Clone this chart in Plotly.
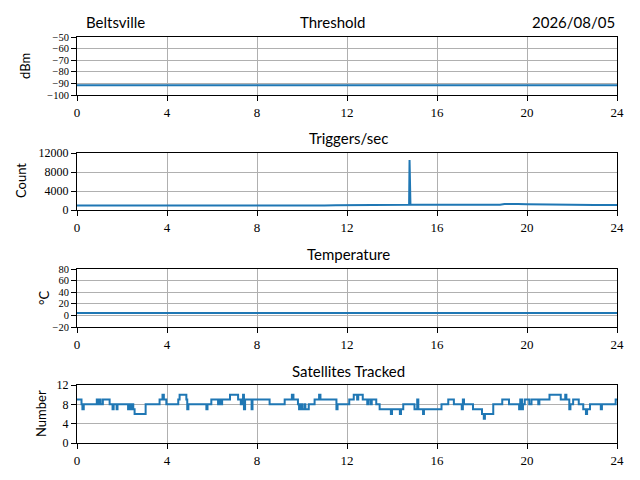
import plotly.graph_objects as go

# ---------------- data ----------------
hours = [0, 2, 4, 6, 8, 10, 12, 14, 16, 18, 20, 22, 24]
threshold_dbm = [-91.5, -91.5, -91.5, -91.5, -91.5, -91.5, -91.5, -91.5, -91.5, -91.5, -91.5, -91.5, -91.5]
temperature_c = [4.2, 4.2, 4.1, 4.1, 4.2, 4.2, 4.3, 4.3, 4.2, 4.2, 4.1, 4.1, 4.2]

trig_hours = [0.0, 0.5, 1.0, 1.5, 2.0, 2.5, 3.0, 3.5, 4.0, 4.5, 5.0, 5.5, 6.0,
              6.5, 7.0, 7.5, 8.0, 8.5, 9.0, 9.5, 10.0, 10.5, 11.0, 11.5, 12.0,
              12.3, 12.5, 13.0, 13.5, 14.0, 14.5,
              14.76, 14.78, 14.80, 14.82,
              15.0, 15.5, 16.0, 16.5, 17.0, 17.5, 18.0, 18.5,
              18.8, 19.0, 19.3, 19.6,
              20.0, 20.5, 21.0, 21.5, 22.0, 22.5, 23.0, 23.5, 24.0]
trig_counts = [960, 980, 970, 990, 970, 960, 960, 950, 960, 960, 950, 950, 940,
               950, 940, 940, 950, 940, 940, 950, 960, 950, 960, 980, 1000,
               1080, 1040, 1050, 1060, 1070, 1080,
               1090, 10500, 1120, 1100,
               1090, 1080, 1070, 1080, 1070, 1070, 1060, 1080,
               1100, 1250, 1300, 1250,
               1200, 1150, 1120, 1100, 1080, 1060, 1050, 1040, 1040]

sat_hours = [0.0, 0.2, 0.24, 0.3, 0.88, 0.95, 1.0, 1.05, 1.15, 1.45, 1.58, 1.63, 1.76, 1.8,
             2.27, 2.32, 2.38, 2.42, 2.5, 2.56, 3.05, 3.67, 3.8, 3.86, 3.97, 4.5, 4.56, 4.86,
             4.9, 4.95, 5.75, 5.8, 5.97, 6.27, 6.32, 6.38, 6.45, 6.8, 7.16, 7.28, 7.33, 7.38,
             7.42, 7.47, 7.76, 7.8, 8.56, 9.23, 9.55, 9.62, 9.82, 9.87, 9.95, 10.0, 10.1, 10.15,
             10.3, 10.56, 10.76, 10.82, 11.53, 11.58, 12.1, 12.3, 12.45, 12.5, 12.7, 12.9, 12.95,
             13.05, 13.1, 13.3, 13.45, 13.95, 14.0, 14.35, 14.4, 14.5, 15.0, 15.12, 15.17, 15.38,
             15.42, 16.2, 16.5, 16.75, 17.1, 17.15, 17.2, 17.6, 18.0, 18.08, 18.13, 18.5, 18.9,
             19.2, 19.65, 19.7, 19.78, 19.82, 19.9, 20.1, 20.2, 20.5, 20.55, 21.0, 21.5, 21.7,
             21.75, 21.88, 21.93, 22.05, 22.3, 22.5, 22.62, 22.67, 22.8, 23.28, 23.33, 23.94, 24.0]
sat_count = [9, 8, 7, 8, 9, 8, 9, 8, 9, 8, 7, 8, 7, 8,
             7, 8, 7, 8, 7, 6, 8, 9, 10, 9, 8, 9, 10, 9,
             7, 8, 7, 8, 9, 8, 9, 8, 9, 10, 9, 8, 9, 10,
             7, 9, 7, 9, 8, 9, 10, 9, 8, 7, 8, 7, 8, 7,
             8, 9, 10, 9, 7, 8, 9, 10, 9, 10, 9, 8, 9,
             8, 9, 8, 7, 6, 7, 6, 7, 8, 7, 9, 7, 6,
             7, 8, 9, 8, 7, 9, 8, 7, 6, 5, 6, 8, 9,
             8, 7, 9, 7, 8, 9, 8, 9, 8, 9, 10, 9, 10,
             9, 7, 8, 9, 8, 7, 6, 7, 8, 7, 8, 9, 9]

x_ticks = [0, 4, 8, 12, 16, 20, 24]
threshold_ticks = [-100, -90, -80, -70, -60, -50]
count_ticks = [0, 4000, 8000, 12000]
temp_ticks = [-20, 0, 20, 40, 60, 80]
sat_ticks = [0, 4, 8, 12]

# ---------------- layout helpers ----------------
W, H = 640, 480
BLUE = "#1f77b4"
SERIF = "Liberation Serif, DejaVu Serif, serif"
XTICKFONT = dict(family=SERIF, size=13, color="black")
YTICK_SIZES = [10.5, 12, 10.5, 12]
TITLEFONT = dict(family="Lato, DejaVu Sans, sans-serif", size=15, color="black")

def px_x(p):
    return p / W

def px_y(p):
    return 1 - p / H

def minus(v):
    return str(v).replace("-", "\u2212")

x_dom = [px_x(77), px_x(617)]
panels = [(37, 95), (153, 210), (269, 327), (385, 443)]

fig = go.Figure()
series = [
    (hours, threshold_dbm, "linear"),
    (trig_hours, trig_counts, "linear"),
    (hours, temperature_c, "linear"),
    (sat_hours, sat_count, "hv"),
]
for i, (xs, ys, shape) in enumerate(series):
    sfx = "" if i == 0 else str(i + 1)
    fig.add_trace(go.Scatter(x=xs, y=ys, mode="lines", line=dict(color=BLUE, width=2, shape=shape),
                             xaxis="x" + sfx, yaxis="y" + sfx, showlegend=False, hoverinfo="skip"))

yranges = [[-100, -50], [0, 12000], [-20, 80], [0, 12]]
yticks = [threshold_ticks, count_ticks, temp_ticks, sat_ticks]

axis_common = dict(showline=True, linecolor="black", linewidth=1, mirror=True,
                   ticks="outside", ticklen=5, tickwidth=1, tickcolor="black",
                   showgrid=True, gridcolor="#b0b0b0", gridwidth=1, zeroline=False,
                   automargin=False)

layout = dict(width=W, height=H, margin=dict(l=0, r=0, t=0, b=0),
              plot_bgcolor="white", paper_bgcolor="white")
for i, (top, bot) in enumerate(panels):
    sfx = "" if i == 0 else str(i + 1)
    layout["xaxis" + sfx] = dict(domain=x_dom, range=[0, 24], tickvals=x_ticks,
                                 ticktext=[str(t) for t in x_ticks], tickfont=XTICKFONT,
                                 anchor="y" + sfx, **axis_common)
    layout["yaxis" + sfx] = dict(domain=[px_y(bot), px_y(top)], range=yranges[i],
                                 tickvals=yticks[i], ticktext=[minus(t) for t in yticks[i]],
                                 tickfont=dict(family=SERIF, size=YTICK_SIZES[i], color="black"),
                                 anchor="x" + sfx, **axis_common)
fig.update_layout(**layout)

ann = []
def text(s, xpx, ypx, xanchor="center", angle=0, font=TITLEFONT):
    ann.append(dict(text=s, x=px_x(xpx), y=px_y(ypx), xref="paper", yref="paper",
                    xanchor=xanchor, yanchor="middle", showarrow=False,
                    textangle=angle, font=font))

text("Beltsville", 84, 22, "left")
text("Threshold", 332, 22)
text("2026/08/05", 617, 22, "right")
text("Triggers/sec", 348, 138)
text("Temperature", 348, 254)
text("Satellites Tracked", 348, 371)
ylab_font = dict(family="Lato, DejaVu Sans, sans-serif", size=13, color="black")
text("dBm", 25, 66, angle=-90, font=ylab_font)
text("Count", 21, 181, angle=-90, font=ylab_font)
text("°C", 44, 298, angle=-90, font=ylab_font)
text("Number", 41, 414, angle=-90, font=ylab_font)
fig.update_layout(annotations=ann)

fig.write_html("out.html", config={"displayModeBar": False},
               post_script="document.body.style.margin='0';document.body.style.padding='0';")
